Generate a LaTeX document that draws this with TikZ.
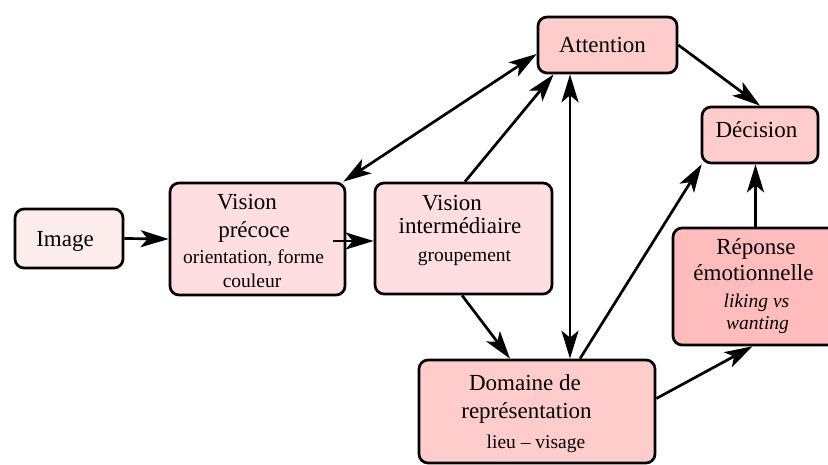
\documentclass[tikz,border=0pt]{standalone}
\usepackage{fontspec}
\setmainfont{Liberation Serif}
\usetikzlibrary{arrows.meta}
\definecolor{cimg}{RGB}{253,236,236}
\definecolor{cvis}{RGB}{255,222,225}
\definecolor{cmid}{RGB}{255,204,204}
\definecolor{crep}{RGB}{255,188,188}
\tikzset{
  box/.style={draw, line width=2.7pt, rounded corners=9pt, inner sep=0pt},
  big/.style={anchor=base, inner sep=0pt, font=\fontsize{23}{23}\selectfont},
  small/.style={anchor=base, inner sep=0pt, font=\fontsize{19.5}{19.5}\selectfont},
  tip/.style={Stealth[length=28pt,width=17pt,inset=7pt]},
  arr/.style={line width=2.7pt, -{Stealth[length=28pt,width=17pt,inset=7pt]}},
  dbl/.style={line width=2.7pt, {Stealth[length=28pt,width=17pt,inset=7pt]}-{Stealth[length=28pt,width=17pt,inset=7pt]}}
}
\begin{document}
\begin{tikzpicture}[x=1pt,y=-1pt]
\useasboundingbox (0,0) rectangle (828,465);
% boxes
\node[box, fill=cimg, minimum width=108pt, minimum height=59pt] (img) at (69,238.5) {};
\node[box, fill=cvis, minimum width=175pt, minimum height=112pt] (vp) at (257.5,239) {};
\node[box, fill=cvis, minimum width=177pt, minimum height=111pt] (vi) at (463.5,238.5) {};
\node[box, fill=cmid, minimum width=139pt, minimum height=56pt] (att) at (607.5,45) {};
\node[box, fill=cmid, minimum width=116pt, minimum height=56pt] (dec) at (760,135) {};
\node[box, fill=crep, minimum width=165pt, minimum height=117pt] (rep) at (755.5,286.5) {};
\node[box, fill=cmid, minimum width=236pt, minimum height=103pt] (dom) at (537,411.5) {};
% texts
\node[big] (t1) at (65,247) {Image};
\node[big] (t2) at (247,210) {Vision};
\node[big] (t3) at (254,238) {précoce};
\node[small] (t4) at (253.5,264) {orientation, forme};
\node[small] (t5) at (252,288) {couleur};
\node[big] (t6) at (452,211) {Vision};
\node[big] (t7) at (460,234) {intermédiaire};
\node[small] (t8) at (464.5,262) {groupement};
\node[big] (t9) at (602.5,53) {Attention};
\node[big] (t10) at (756.5,138) {Décision};
\node[big] (t11) at (756,255) {Réponse};
\node[big] (t12) at (753.5,281) {émotionnelle};
\node[small] (t13) at (756.5,308) {\itshape liking vs};
\node[small] (t14) at (757.5,330) {\itshape wanting};
\node[big] (t15) at (525,390) {Domaine de};
\node[big] (t16) at (526.5,418) {représentation};
\node[small] (t17) at (536,448) {lieu -- visage};
% connectors
\coordinate (s2) at (333,241);
\draw[arr] (img.east) -- (vp.west);
\draw[arr] (s2) -- (s2 -| vi.west);
\draw[dbl] ([xshift=-3pt]vp.north east) -- ([yshift=-9pt]att.west);
\draw[arr] ([xshift=1.5pt]vi.north) -- ([xshift=17pt]att.south west);
\coordinate (a5) at ([xshift=-37.5pt]att.south);
\draw[dbl] (a5) -- (a5 |- dom.north);
\draw[arr] ([xshift=-1.5pt]vi.south) -- ([xshift=-27pt]dom.north);
\draw[arr] ([xshift=43pt]dom.north) -- ([xshift=1pt]dec.south west);
\draw[arr] (att.east) -- (dec.north);
\draw[arr] (rep.north) -- (rep.north |- dec.south);
\draw[arr] ([yshift=13pt]dom.east) -- ([xshift=-3pt]rep.south);
\end{tikzpicture}
\end{document}
